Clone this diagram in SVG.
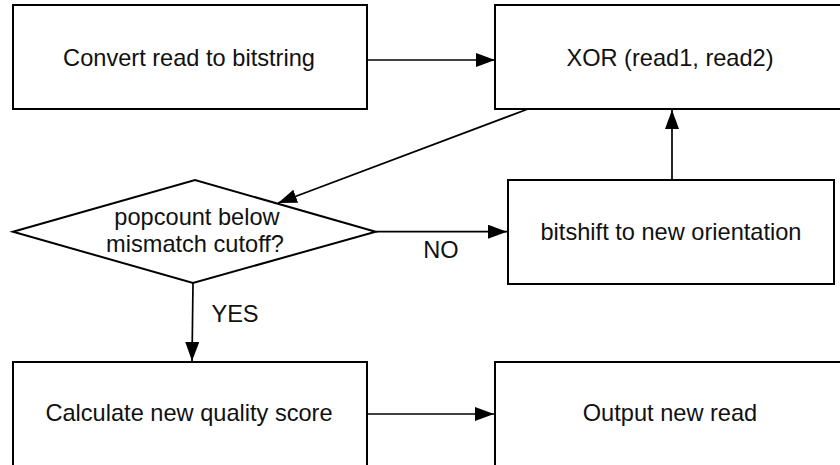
<svg xmlns="http://www.w3.org/2000/svg" width="840" height="465" viewBox="0 0 840 465">
<defs>
<style>
.box{fill:#fff;stroke:#000;stroke-width:2}
.lbl{font-family:"Liberation Sans",Arial,Helvetica,sans-serif;font-size:23.6px;fill:#111;text-anchor:middle}
.edge{fill:none;stroke:#000;stroke-width:1.7}
</style>
<marker id="arr" markerUnits="userSpaceOnUse" markerWidth="19" markerHeight="14" refX="19" refY="7" orient="auto">
<path d="M0,0 L19,7 L0,14 z" fill="#000"/>
</marker>
</defs>
<rect width="840" height="465" fill="#fff"/>
<g id="n-convert">
<rect class="box" x="13" y="5" width="354" height="104"/>
<text class="lbl" x="189" y="65.5">Convert read to bitstring</text>
</g>
<g id="n-xor">
<rect class="box" x="495" y="5" width="354" height="104"/>
<text class="lbl" x="670" y="65.5">XOR (read1, read2)</text>
</g>
<g id="n-decision">
<polygon class="box" points="13,231.7 195,180 375.7,231.7 193,283"/>
<text class="lbl" x="197" y="225">popcount below</text>
<text class="lbl" x="195" y="252">mismatch cutoff?</text>
</g>
<g id="n-bitshift">
<rect class="box" x="508" y="180" width="326" height="104"/>
<text class="lbl" x="671" y="240">bitshift to new orientation</text>
</g>
<g id="n-calc">
<rect class="box" x="13" y="362" width="354" height="104"/>
<text class="lbl" x="189" y="421">Calculate new quality score</text>
</g>
<g id="n-output">
<rect class="box" x="495" y="362" width="354" height="104"/>
<text class="lbl" x="670" y="421">Output new read</text>
</g>
<g id="connectors">
<line class="edge" x1="367" y1="60" x2="495" y2="60" marker-end="url(#arr)"/>
<line class="edge" x1="528" y1="109" x2="278" y2="203" marker-end="url(#arr)"/>
<line class="edge" x1="375.7" y1="231.7" x2="507" y2="231.7" marker-end="url(#arr)"/>
<text class="lbl" x="441" y="258">NO</text>
<line class="edge" x1="672" y1="180" x2="672" y2="110" marker-end="url(#arr)"/>
<line class="edge" x1="193" y1="283" x2="192" y2="361" marker-end="url(#arr)"/>
<text class="lbl" x="235" y="322">YES</text>
<line class="edge" x1="367" y1="414" x2="494" y2="414" marker-end="url(#arr)"/>
</g>
</svg>
